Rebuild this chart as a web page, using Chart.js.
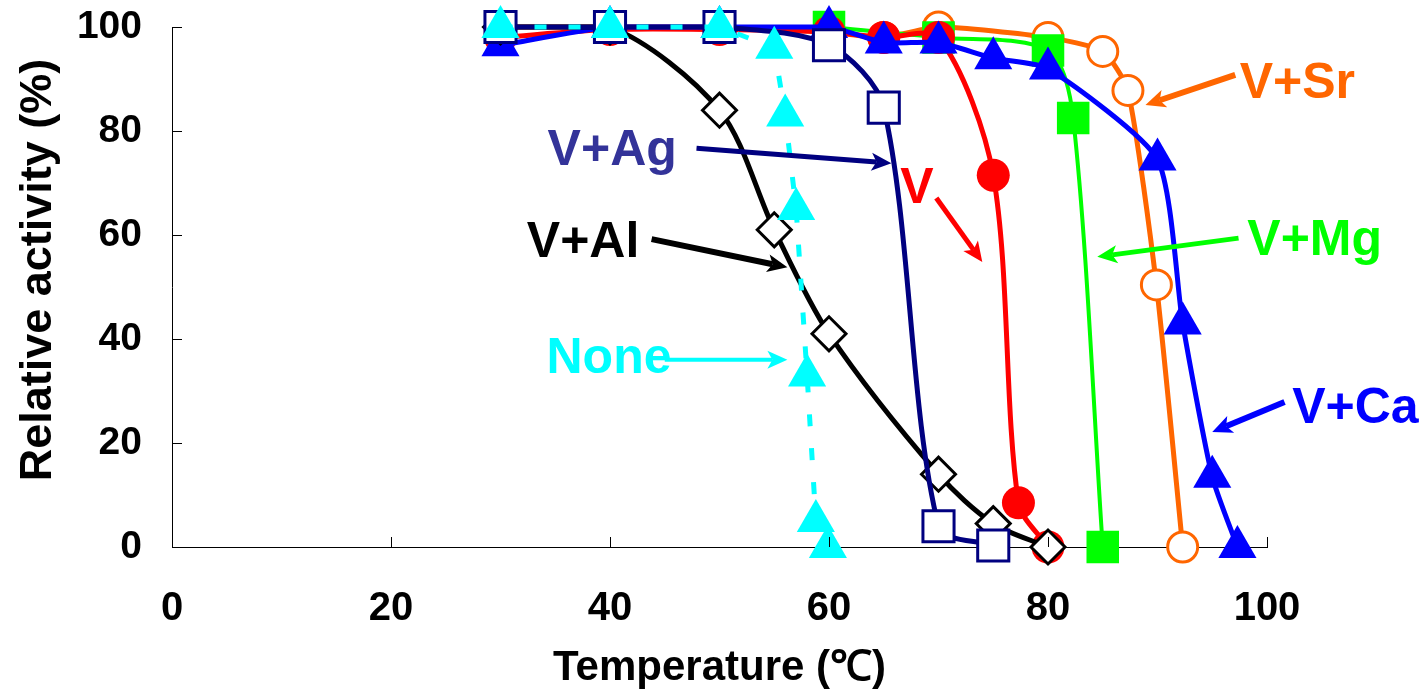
<!DOCTYPE html>
<html>
<head>
<meta charset="utf-8">
<script src="https://cdn.jsdelivr.net/npm/chart.js@4.4.0/dist/chart.umd.min.js"></script>
<style>
  html, body { margin: 0; padding: 0; background: #fff; }
  #wrap { width: 1428px; height: 699px; position: relative; }
</style>
</head>
<body>
<div id="wrap"><canvas id="chart"></canvas></div>
<script>
// temperature (C) vs relative activity (%) for each condition
const noneTemp = [30, 40, 50, 55, 56, 57, 58, 58.8, 59.9];
const noneAct  = [100, 100, 100, 96, 83, 65, 33, 5, 0];

const agTemp = [30, 40, 50, 60, 65, 70, 75];
const agAct  = [100, 100, 100, 96.5, 84.5, 4, 0.3];

const alTemp = [30, 40, 50, 55, 60, 70, 75, 80];
const alAct  = [100, 100, 84, 61, 41, 14, 4.5, 0];

const caTemp = [30, 40, 50, 60, 65, 70, 75, 80, 90, 92.3, 95, 97.3];
const caAct  = [96.5, 100, 100, 100, 97, 97, 94, 92, 74.5, 43, 13.5, 0];

const vTemp = [30, 40, 50, 60, 65, 70, 75, 77.3, 80];
const vAct  = [98, 99.5, 99.5, 99, 98, 98, 71.5, 8.5, 0];

const mgTemp = [60, 70, 80, 82.3, 85];
const mgAct  = [100, 98, 95.5, 82.5, 0];

const srTemp = [30, 40, 50, 60, 65, 70, 80, 85, 87.3, 89.9, 92.3];
const srAct  = [100, 100, 100, 99, 98, 100, 98, 95.3, 87.8, 50.4, 0];

const xTicks = [0, 20, 40, 60, 80, 100];
const yTicks = [0, 20, 40, 60, 80, 100];

const xTitle = 'Temperature (\u2103)';
const yTitle = 'Relative activity (%)';

// callout labels: text, colour, where the text starts (data units), arrow from -> to
const labels = [
  { text: 'V+Ag', color: '#333399', arrowColor: '#000080', at: [34.3, 73.5], from: [47.9, 76.7], to: [65.7, 73.8], w: 5 },
  { text: 'V',    color: '#ff0000', arrowColor: '#ff0000', at: [66.5, 66.2], from: [69.8, 67.1], to: [74.0, 54.8], w: 5 },
  { text: 'V+Al', color: '#000000', arrowColor: '#000000', at: [32.4, 55.8], from: [43.8, 59.2], to: [56.2, 53.8], w: 6 },
  { text: 'None', color: '#00ffff', arrowColor: '#00ffff', at: [34.2, 33.5], from: [45.0, 36.0], to: [56.2, 36.0], w: 4 },
  { text: 'V+Sr', color: '#ff6600', arrowColor: '#ff6600', at: [97.5, 86.3], from: [97.1, 90.8], to: [88.9, 85.0], w: 6 },
  { text: 'V+Mg', color: '#00ff00', arrowColor: '#00ff00', at: [98.2, 56.2], from: [97.4, 59.4], to: [84.5, 55.8], w: 5 },
  { text: 'V+Ca', color: '#0000ff', arrowColor: '#0000ff', at: [102.3, 23.8], from: [101.6, 27.9], to: [95.0, 22.1], w: 6 },
];

const FONT = '"Liberation Sans", Arial, sans-serif';

function pts(temp, act) {
  return temp.map((t, i) => ({ x: t, y: act[i] }));
}

function arrow(ctx, x1, y1, x2, y2, w, color) {
  const a = Math.atan2(y2 - y1, x2 - x1);
  const head = 20, half = 9, notch = 5;
  const cos = Math.cos(a), sin = Math.sin(a);
  const bx = x2 - head * cos, by = y2 - head * sin;
  ctx.save();
  ctx.strokeStyle = color;
  ctx.fillStyle = color;
  ctx.lineWidth = w;
  ctx.beginPath();
  ctx.moveTo(x1, y1);
  ctx.lineTo(bx + notch * cos, by + notch * sin);
  ctx.stroke();
  ctx.beginPath();
  ctx.moveTo(x2, y2);
  ctx.lineTo(bx + half * sin, by - half * cos);
  ctx.lineTo(bx + notch * cos, by + notch * sin);
  ctx.lineTo(bx - half * sin, by + half * cos);
  ctx.closePath();
  ctx.fill();
  ctx.restore();
}

const overlay = {
  id: 'overlay',
  afterDraw(chart) {
    const { ctx, scales: { x, y } } = chart;
    ctx.save();
    // inward tick marks
    ctx.strokeStyle = '#000';
    ctx.lineWidth = 1;
    ctx.beginPath();
    yTicks.forEach(v => {
      const py = Math.round(y.getPixelForValue(v)) + 0.5;
      ctx.moveTo(x.left, py);
      ctx.lineTo(x.left + 10, py);
    });
    xTicks.forEach(v => {
      const px = Math.round(x.getPixelForValue(v)) + 0.5;
      ctx.moveTo(px, y.bottom);
      ctx.lineTo(px, y.bottom - 10);
    });
    ctx.stroke();

    // axis titles
    ctx.fillStyle = '#000';
    ctx.font = 'bold 42px ' + FONT;
    ctx.textAlign = 'center';
    ctx.textBaseline = 'alphabetic';
    ctx.fillText(xTitle, (x.left + x.right) / 2, 680);
    ctx.save();
    ctx.translate(51, 270);
    ctx.rotate(-Math.PI / 2);
    ctx.font = 'bold 45px ' + FONT;
    ctx.fillText(yTitle, 0, 0);
    ctx.restore();

    // callouts
    ctx.font = 'bold 50px ' + FONT;
    ctx.textAlign = 'left';
    labels.forEach(l => {
      ctx.fillStyle = l.color;
      ctx.fillText(l.text, x.getPixelForValue(l.at[0]), y.getPixelForValue(l.at[1]));
      arrow(ctx,
        x.getPixelForValue(l.from[0]), y.getPixelForValue(l.from[1]),
        x.getPixelForValue(l.to[0]), y.getPixelForValue(l.to[1]),
        l.w, l.arrowColor);
    });
    ctx.restore();
  }
};

const common = { tension: 0.3, borderWidth: 5, clip: false, fill: false };

new Chart(document.getElementById('chart'), {
  type: 'line',
  data: {
    datasets: [
      { ...common, label: 'None', data: pts(noneTemp, noneAct), tension: 0,
        borderColor: '#00ffff', borderDash: [12, 22],
        pointStyle: 'triangle', pointRadius: 22, pointBackgroundColor: '#00ffff', pointBorderWidth: 0 },
      { ...common, label: 'V+Ag', data: pts(agTemp, agAct), borderColor: '#000080',
        pointStyle: 'rect', pointRadius: 22, pointBackgroundColor: '#ffffff',
        pointBorderColor: '#000080', pointBorderWidth: 3 },
      { ...common, label: 'V+Al', data: pts(alTemp, alAct), borderColor: '#000000',
        pointStyle: 'rectRot', pointRadius: 17, pointBackgroundColor: '#ffffff',
        pointBorderColor: '#000000', pointBorderWidth: 3 },
      { ...common, label: 'V+Ca', data: pts(caTemp, caAct), borderColor: '#0000ff', tension: 0.2,
        pointStyle: 'triangle', pointRadius: 22, pointBackgroundColor: '#0000ff', pointBorderWidth: 0 },
      { ...common, label: 'V', data: pts(vTemp, vAct), borderColor: '#ff0000',
        pointStyle: 'circle', pointRadius: 16.5, pointBackgroundColor: '#ff0000', pointBorderWidth: 0 },
      { ...common, label: 'V+Mg', data: pts(mgTemp, mgAct), borderColor: '#00ff00', borderWidth: 4,
        pointStyle: 'rect', pointRadius: 23, pointBackgroundColor: '#00ff00', pointBorderWidth: 0 },
      { ...common, label: 'V+Sr', data: pts(srTemp, srAct), borderColor: '#ff6600', tension: 0.2,
        pointStyle: 'circle', pointRadius: 15, pointBackgroundColor: '#ffffff',
        pointBorderColor: '#ff6600', pointBorderWidth: 3 },
    ]
  },
  options: {
    responsive: true,
    maintainAspectRatio: false,
    animation: false,
    events: [],
    layout: { padding: { top: 27, right: 161, left: 0, bottom: 0 } },
    plugins: { legend: { display: false }, tooltip: { enabled: false } },
    scales: {
      x: {
        type: 'linear', min: 0, max: 100,
        afterFit: s => { s.height = 152; s.paddingLeft = 0; s.paddingRight = 0; },
        afterBuildTicks: s => { s.ticks = xTicks.map(v => ({ value: v })); },
        grid: { display: false },
        border: { display: true, color: '#000', width: 1 },
        ticks: { color: '#000', padding: 30, font: { family: FONT, size: 40, weight: 'bold' } }
      },
      y: {
        type: 'linear', min: 0, max: 100,
        afterFit: s => { s.width = 172; s.paddingTop = 0; s.paddingBottom = 0; },
        afterBuildTicks: s => { s.ticks = yTicks.map(v => ({ value: v })); },
        grid: { display: false },
        border: { display: true, color: '#000', width: 1 },
        ticks: { color: '#000', padding: 22, font: { family: FONT, size: 39, weight: 'bold' } }
      }
    }
  },
  plugins: [overlay]
});
</script>
</body>
</html>
